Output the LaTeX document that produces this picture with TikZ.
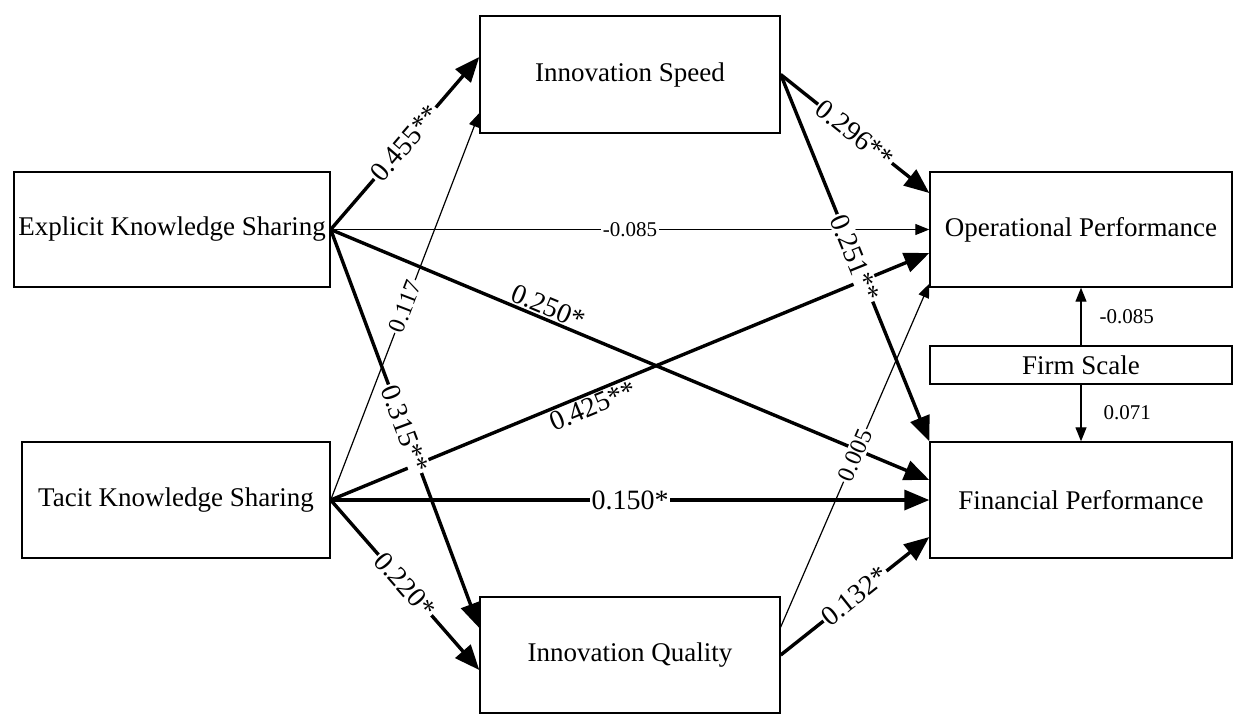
\documentclass[tikz,border=0pt]{standalone}
\usepackage{fontspec}
\setmainfont{Liberation Serif}
\usetikzlibrary{arrows.meta,calc}
\begin{document}
\begin{tikzpicture}[x=0.5pt,y=-0.5pt,
  box/.style={draw,line width=0.7pt,inner sep=0pt,font=\fontsize{13.5}{16}\selectfont},
  strong/.style={line width=1.7pt,-{Triangle[length=12.5pt,width=10pt]}},
  weak/.style={line width=0.6pt,-{Triangle[length=7pt,width=5.5pt]}},
  lab/.style={font=\fontsize{14}{16}\selectfont,fill=white,inner sep=0.8pt,sloped,midway},
  slab/.style={font=\fontsize{12}{14}\selectfont,fill=white,inner sep=0.8pt,sloped,midway},
  hlab/.style={font=\fontsize{10.5}{12}\selectfont,fill=white,inner sep=0.8pt,midway},
  side/.style={font=\fontsize{10.5}{12}\selectfont,inner sep=0pt,midway,anchor=west}]
\useasboundingbox (0,0) rectangle (1257,725);
% boxes
\node[box,minimum width=158pt,minimum height=57.5pt] (exp) at (172,229.5) {Explicit Knowledge Sharing};
\node[box,minimum width=154pt,minimum height=58pt] (tac) at (176,500) {Tacit Knowledge Sharing};
\node[box,minimum width=150pt,minimum height=58.5pt] (spd) at (630,74.5) {Innovation Speed};
\node[box,minimum width=150pt,minimum height=58pt] (qua) at (630,655) {Innovation Quality};
\node[box,minimum width=151pt,minimum height=57.5pt] (op) at (1081,229.5) {Operational Performance};
\node[box,minimum width=151pt,minimum height=58pt] (fin) at (1081,500) {Financial Performance};
\node[box,minimum width=151pt,minimum height=19pt] (firm) at (1081,365) {Firm Scale};
% thin paths
\draw[weak] (exp.east) -- (op.west) node[hlab] {-0.085};
\draw[weak] (tac.east) -- ($(spd.west)+(0,38.5)$) node[slab] {0.117};
% thick paths
\draw[strong] (exp.east) -- ($(spd.west)+(0,-17.5)$) node[lab] {0.455**};
\draw[strong] (exp.east) -- ($(fin.west)+(0,-20)$) node[lab,fill=none,pos=0.355,above] {0.250*};
\draw[strong] (tac.east) -- ($(op.west)+(0,23.5)$) node[lab,fill=none,pos=0.43,below] {0.425**};
\draw[strong] (exp.east) -- ($(qua.west)+(0,-27)$) node[lab] {0.315**};
\draw[strong] (tac.east) -- (fin.west) node[lab] {0.150*};
\draw[strong] (tac.east) -- ($(qua.west)+(0,15)$) node[lab] {0.220*};
\draw[strong] (spd.east) -- ($(op.west)+(0,-36.5)$) node[lab] {0.296**};
\draw[strong] (spd.east) -- (fin.north west) node[lab] {0.251**};
\draw[strong] (qua.east) -- ($(fin.west)+(0,37)$) node[lab] {0.132*};
\draw[weak] ($(qua.east)+(0,-28)$) -- ($(op.south west)+(0,-4)$) node[slab] {0.005};
% firm scale
\draw[weak] (firm.north) -- (op.south) node[side,xshift=9pt] {-0.085};
\draw[weak] (firm.south) -- (fin.north) node[side,xshift=11pt] {0.071};
\end{tikzpicture}
\end{document}
